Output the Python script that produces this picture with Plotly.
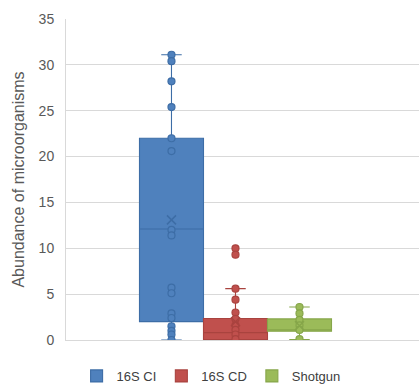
import plotly.graph_objects as go

categories = ["16S CI", "16S CD", "Shotgun"]
q1 = [2.0, 0.05, 0.95]
median = [12.1, 0.8, 1.1]
q3 = [22.0, 2.35, 2.3]
lowerfence = [0.0, 0.0, 0.05]
upperfence = [31.1, 5.6, 3.6]
means = [13.1, 2.0, 1.55]

points_ci = [31.1, 30.4, 28.2, 25.4, 22.0, 20.6, 12.0, 11.4, 5.7, 5.1, 2.9, 2.4, 1.5, 1.0, 0.6, 0.0]
points_cd = [10.0, 9.3, 5.6, 4.4, 3.0, 2.3, 1.6, 1.1, 0.6, 0.1]
points_sg = [3.6, 2.9, 2.2, 1.6, 1.1, 0.1]
points = [points_ci, points_cd, points_sg]

fills = ["#4F81BD", "#C0504D", "#9BBB59"]
lines = ["#3D6DA6", "#A9433F", "#86A64A"]

fig = go.Figure()
for i, cat in enumerate(categories):
    fig.add_trace(go.Box(
        x=[cat], q1=[q1[i]], median=[median[i]], q3=[q3[i]],
        lowerfence=[lowerfence[i]], upperfence=[upperfence[i]],
        name=cat, fillcolor=fills[i], line=dict(color=lines[i], width=1.1),
        width=1.0, whiskerwidth=0.32, boxpoints=False, hoverinfo="skip",
    ))
for i, cat in enumerate(categories):
    fig.add_trace(go.Scatter(
        x=[cat] * len(points[i]), y=points[i], mode="markers",
        marker=dict(size=7, color=fills[i], line=dict(color=lines[i], width=1.2)),
        showlegend=False, hoverinfo="skip",
    ))
    fig.add_trace(go.Scatter(
        x=[cat], y=[means[i]], mode="markers",
        marker=dict(size=9, symbol="x-thin-open", color=lines[i], line=dict(color=lines[i], width=1.5)),
        showlegend=False, hoverinfo="skip",
    ))

font = "Liberation Sans, Arial, sans-serif"
fig.update_layout(
    width=419, height=384,
    margin=dict(l=66, r=0, t=19, b=44, autoexpand=False),
    paper_bgcolor="white", plot_bgcolor="white",
    boxgap=0, boxmode="overlay",
    font=dict(family=font, color="#595959", size=13),
    showlegend=True,
    legend=dict(orientation="h", x=0.03, xanchor="left", y=-0.112, yanchor="middle",
                font=dict(family=font, size=13, color="#404040"),
                traceorder="normal"),
    xaxis=dict(type="category", categoryorder="array", categoryarray=categories,
               range=[-1.648, 3.867], showticklabels=False, showgrid=False,
               showline=True, linecolor="#D9D9D9", linewidth=1, ticks="", zeroline=False),
    yaxis=dict(range=[0, 35], dtick=5, showgrid=True, gridcolor="#D9D9D9", gridwidth=1,
               showline=True, linecolor="#D9D9D9", linewidth=1, zeroline=False,
               ticks="", ticklabelstandoff=8, tickfont=dict(size=14, color="#595959"),
               title=dict(text="Abundance of microorganisms", standoff=10,
                          font=dict(size=16, color="#595959"))),
)
fig.write_html("out.html", config={"displayModeBar": False},
               post_script="document.body.style.margin='0';")
